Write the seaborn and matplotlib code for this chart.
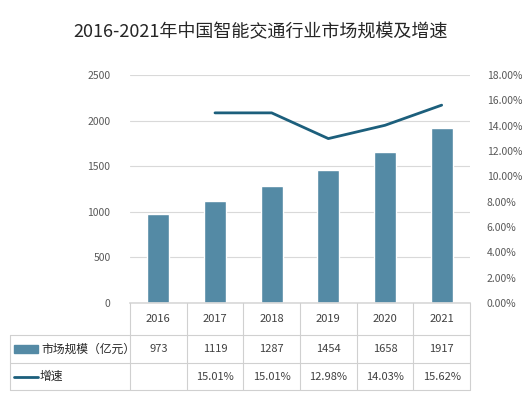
import numpy as np
import matplotlib
matplotlib.use('Agg')
import matplotlib.pyplot as plt
import seaborn as sns
from matplotlib.lines import Line2D
from matplotlib.patches import Rectangle

years = ['2016', '2017', '2018', '2019', '2020', '2021']
market_size = [973, 1119, 1287, 1454, 1658, 1917]
growth = [np.nan, 15.01, 15.01, 12.98, 14.03, 15.62]
size_labels = ['973', '1119', '1287', '1454', '1658', '1917']
growth_labels = ['', '15.01%', '15.01%', '12.98%', '14.03%', '15.62%']
series_names = ['市场规模（亿元）', '增速']

bar_color = '#548aa5'
line_color = '#1c5f7c'
text_color = '#595959'

sns.set_theme(style='white')
plt.rcParams['font.family'] = ['Noto Sans CJK SC', 'DejaVu Sans']

W, H = 522, 394
fig = plt.figure(figsize=(W / 100, H / 100), dpi=100)
ax = fig.add_axes([130 / W, 1 - 303 / H, 340 / W, 228 / H])

x = np.arange(len(years))
sns.barplot(x=x, y=market_size, color=bar_color, saturation=1, width=0.39, ax=ax)
ax.set_xlim(-0.5, len(years) - 0.5)
ax.set_ylim(0, 2500)
ax.set_yticks(range(0, 2501, 500))
ax.yaxis.grid(True, color='#d9d9d9', linewidth=0.8)
ax.set_axisbelow(True)
ax.set_xticks([])
for s in ['top', 'right', 'left']:
    ax.spines[s].set_visible(False)
ax.spines['bottom'].set_color('#d9d9d9')
ax.tick_params(axis='y', labelsize=7.5, colors=text_color, length=0, pad=14)

ax2 = ax.twinx()
sns.lineplot(x=x, y=growth, color=line_color, linewidth=2, ax=ax2)
ax2.set_ylim(0, 18)
ax2.set_yticks(range(0, 19, 2))
ax2.set_yticklabels([f'{v:.2f}%' for v in range(0, 19, 2)])
ax2.tick_params(axis='y', labelsize=7.5, colors=text_color, length=0, pad=12)
for s in ax2.spines.values():
    s.set_visible(False)

fig.text(0.5, 1 - 32 / H, '2016-2021年中国智能交通行业市场规模及增速',
         ha='center', va='center', fontsize=13, color='#262626', fontweight='medium')

# data table below the chart
def fy(py):
    return 1 - py / H

def fx(px):
    return px / W

grid_kw = dict(color='#d0d0d0', linewidth=0.8, transform=fig.transFigure)
row_y = [303, 335, 363, 390]
for py in row_y[1:]:
    fig.add_artist(Line2D([fx(10), fx(470)], [fy(py), fy(py)], **grid_kw))
fig.add_artist(Line2D([fx(10), fx(10)], [fy(335), fy(390)], **grid_kw))
edges = np.arange(len(years) + 1) - 0.5
for e in edges:
    xf = fig.transFigure.inverted().transform(ax.transData.transform((e, 0)))[0]
    fig.add_artist(Line2D([xf, xf], [fy(303), fy(390)], **grid_kw))

for i, yr in enumerate(years):
    xf = fig.transFigure.inverted().transform(ax.transData.transform((i, 0)))[0]
    fig.text(xf, fy(319), yr, ha='center', va='center', fontsize=8, color='#404040')
    fig.text(xf, fy(349), size_labels[i], ha='center', va='center', fontsize=8, color='#404040')
    fig.text(xf, fy(377), growth_labels[i], ha='center', va='center', fontsize=8, color='#404040')

fig.add_artist(Rectangle((fx(14), fy(353)), fx(24), 8 / H, color=bar_color, transform=fig.transFigure))
fig.text(fx(41), fy(349), series_names[0], ha='left', va='center', fontsize=8.5, color='#262626')
fig.add_artist(Line2D([fx(14), fx(38)], [fy(377), fy(377)], color=line_color, linewidth=2, transform=fig.transFigure))
fig.text(fx(40), fy(376), series_names[1], ha='left', va='center', fontsize=8.5, color='#262626')

fig.savefig('out.png', dpi=100)
